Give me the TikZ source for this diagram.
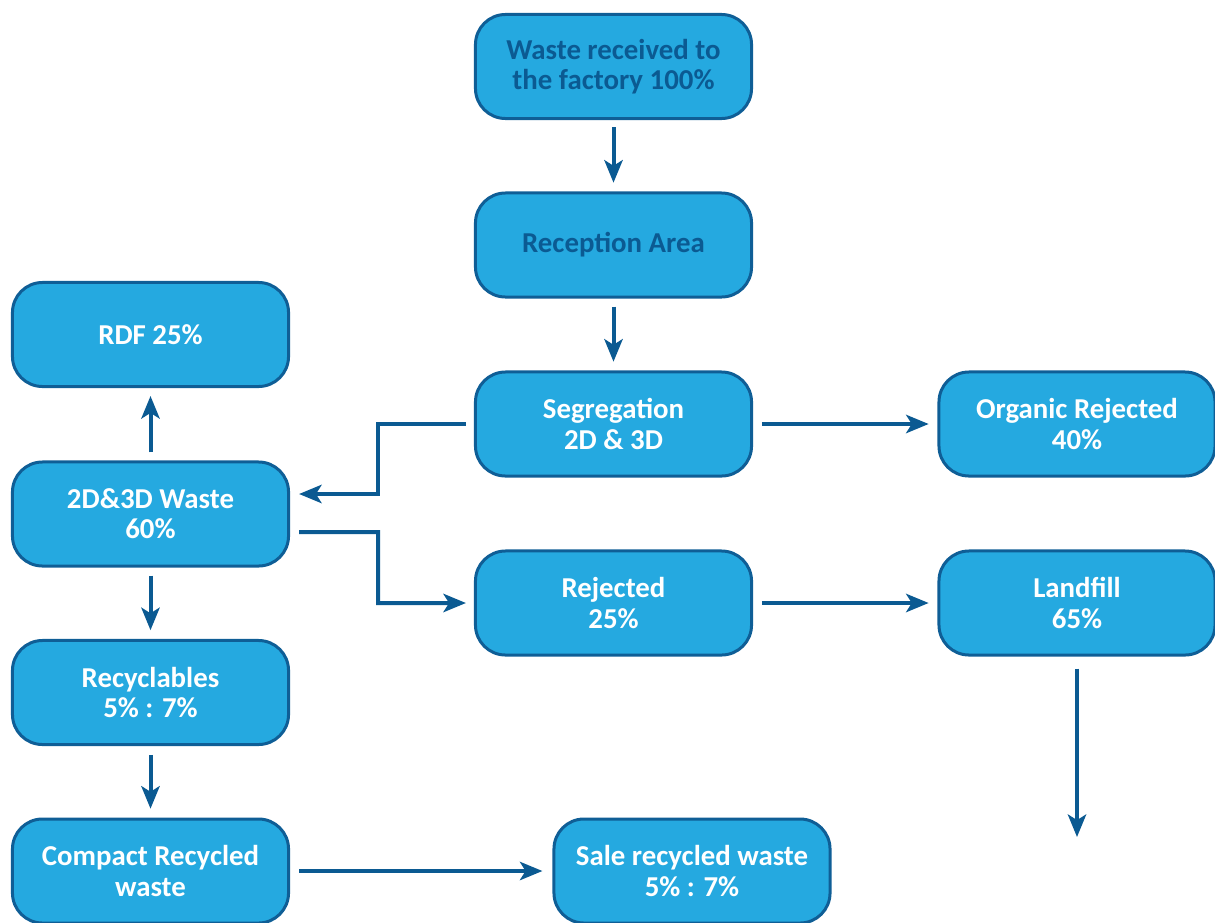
\documentclass[tikz,border=0pt]{standalone}
\usepackage{fontspec}
\setmainfont{Carlito}
\usetikzlibrary{arrows.meta}
\definecolor{boxfill}{HTML}{25A9E0}
\definecolor{boxline}{HTML}{0F5E96}
\definecolor{flow}{HTML}{0B5A92}
\begin{document}
\begin{tikzpicture}[x=0.025cm,y=-0.025cm,
  stage/.style={draw=boxline, line width=0.075cm, fill=boxfill, rounded corners=0.75cm,
    minimum width=6.9cm, minimum height=2.6cm, align=center, text=white,
    font=\bfseries\fontsize{20.5}{21.5}\selectfont, inner sep=2pt},
  darktext/.style={text=flow},
  arr/.style={draw=flow, line width=0.1cm,
    -{Stealth[length=16pt, width=13pt, inset=4pt]}},
  ]
\useasboundingbox (0,0) rectangle (1215,922);

% process stages
\node[stage, darktext] (top) at (613.5,66.5) {Waste received to\\the factory 100\%};
\node[stage, darktext] (rec) at (613.5,245) {Reception Area};
\node[stage] (seg) at (613.5,424) {Segregation\\2D \& 3D};
\node[stage] (org) at (1077,424) {Organic Rejected\\40\%};
\node[stage] (rdf) at (150.5,334.5) {RDF 25\%};
\node[stage] (dd) at (150.5,514) {2D\&3D Waste\\60\%};
\node[stage] (rej) at (613.5,603) {Rejected\\25\%};
\node[stage] (land) at (1077,603) {Landfill\\65\%};
\node[stage] (recy) at (150.5,692.5) {Recyclables\\5\% : 7\%};
\node[stage] (comp) at (150.5,871) {Compact Recycled\\waste};
\node[stage] (sale) at (692,871) {Sale recycled waste\\5\% : 7\%};

% elbow points and free end
\coordinate (k1) at (378,424);
\coordinate (k2) at (378,532);
\coordinate (out) at (1077,837);

% connectors
\draw[arr] ([yshift=-0.175cm]top.south) -- ([yshift=0.22cm]rec.north);
\draw[arr] ([yshift=-0.2cm]rec.south) -- ([yshift=0.22cm]seg.north);
\draw[arr] ([xshift=0.22cm]seg.east) -- ([xshift=-0.22cm]org.west);
\draw[arr] ([xshift=-0.2cm]seg.west) -- (k1) |- ([xshift=0.225cm,yshift=0.5cm]dd.east);
\draw[arr] ([xshift=0.225cm,yshift=-0.45cm]dd.east) -- (k2) |- ([xshift=-0.2cm]rej.west);
\draw[arr] ([xshift=0.22cm]rej.east) -- ([xshift=-0.22cm]land.west);
\draw[arr] ([yshift=0.2cm]dd.north) -- ([yshift=-0.2cm]rdf.south);
\draw[arr] ([yshift=-0.2cm]dd.south) -- ([yshift=0.22cm]recy.north);
\draw[arr] ([yshift=-0.22cm]recy.south) -- ([yshift=0.22cm]comp.north);
\draw[arr] ([xshift=0.225cm]comp.east) -- ([xshift=-0.25cm]sale.west);
\draw[arr] ([yshift=-0.3cm]land.south) -- (out);
\end{tikzpicture}
\end{document}
